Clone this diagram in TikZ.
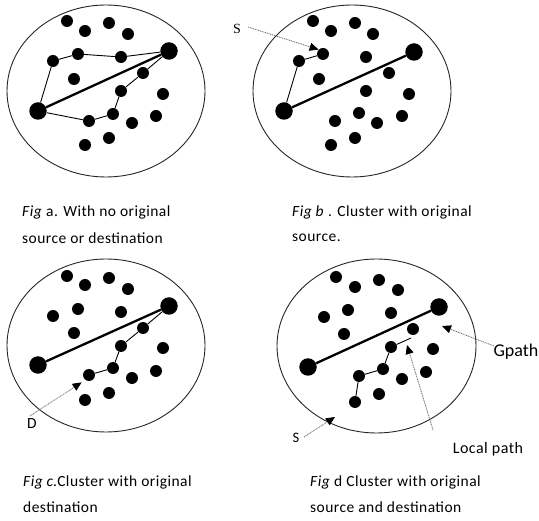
\documentclass[tikz,border=0pt]{standalone}
\usepackage{fontspec}
\setmainfont{Carlito}
\newfontfamily\capfont{Carlito}[LetterSpace=3]
\newfontfamily\serifS{Liberation Serif}
\usetikzlibrary{arrows.meta}
\begin{document}
\begin{tikzpicture}[x=1pt,y=-1pt,
  dot/.style={circle,fill=black,inner sep=0pt,minimum size=12pt},
  bigdot/.style={circle,fill=black,inner sep=0pt,minimum size=17.5pt},
  cluster/.style={draw=black!85,line width=0.9pt},
  gline/.style={line width=2.3pt},
  lline/.style={line width=0.9pt},
  pointer/.style={draw=black!60,line width=0.8pt,dash pattern=on 1pt off 0.8pt,
    -{Triangle[length=9pt,width=8pt,color=black]}},
  captext/.style={anchor=west,inner sep=0pt,font=\capfont\fontsize{15.5}{17}\selectfont},
  lbl/.style={inner sep=0pt,font=\fontsize{15}{17}\selectfont}]
\useasboundingbox (0,0) rectangle (539,521);

% ---------- clusters ----------
\draw[cluster] (106,91) ellipse [x radius=99, y radius=86];
\draw[cluster] (352,91) ellipse [x radius=99, y radius=86];
\draw[cluster] (106,345.5) ellipse [x radius=99, y radius=86.5];
\draw[cluster] (376.5,346) ellipse [x radius=99.5, y radius=87];

% ---------- panel a ----------
\foreach \n/\x/\y in {1/67/21,2/85/31,3/109/23,4/128/34,5/53/61,6/78/54,7/121/57,
  8/143/73,9/74/79,10/163/94,11/121/91,12/113/114,13/89/121,14/132/123,15/156/116,
  16/109/138,17/85/145}
  \node[dot] (a\n) at (\x,\y) {};
\node[bigdot] (aR) at (169,51) {};
\node[bigdot] (aL) at (38,111) {};
\draw[gline] (aL) -- (aR);
\draw[lline] (aL) -- (a5) -- (a6) -- (a7) -- (aR);
\draw[lline] (aL) -- (a13) -- (a12) -- (a11) -- (a8) -- (aR);

% ---------- panel b ----------
\foreach \n/\x/\y in {1/313/21,2/331/31,3/355/23,4/373/34,5/299/61,6/323/54,7/366/57,
  8/389/73,9/319/79,10/409/94,11/366/91,12/359/113,13/335/121,14/377/123,15/402/116,
  16/355/138,17/331/145}
  \node[dot] (b\n) at (\x,\y) {};
\node[bigdot] (bR) at (414,52) {};
\node[bigdot] (bL) at (284,111) {};
\draw[gline] (bL) -- (bR);
\draw[lline] (bL) -- (b5) -- (b6);
\node[lbl,font=\serifS\fontsize{14}{16}\selectfont] (bS) at (237,29) {S};
\coordinate (bSs) at (248,27);
\draw[pointer] (bSs) -- (b6.north west);

% ---------- panel c ----------
\foreach \n/\x/\y in {1/67/276,2/85/285,3/109/278,4/128/289,5/53/316,6/78/309,7/121/312,
  8/143/328,9/74/333,10/163/348,11/121/346,12/113/368,13/89/375,14/132/378,15/156/371,
  16/109/393,17/85/400}
  \node[dot] (c\n) at (\x,\y) {};
\node[bigdot] (cR) at (169,306) {};
\node[bigdot] (cL) at (38,365) {};
\draw[gline] (cL) -- (cR);
\draw[lline] (cR) -- (c8) -- (c11) -- (c12) -- (c13);
\node[lbl,font=\fontsize{15.5}{17}\selectfont] (cD) at (32,424) {D};
\coordinate (cDs) at (30,416);
\draw[pointer] (cDs) -- ([shift={(-3,3)}]c13.south west);

% ---------- panel d ----------
\foreach \n/\x/\y in {1/336/277,2/355/287,3/379/280,4/398/290,5/324/317,6/348/310,7/391/313,
  8/413/329,9/344/334,10/433/349,11/391/347,12/383/369,13/359/376,14/402/379,15/426/372,
  16/379/394,17/355/402}
  \node[dot] (d\n) at (\x,\y) {};
\node[bigdot] (dR) at (439,307) {};
\node[bigdot] (dL) at (308,367) {};
\draw[gline] (dL) -- (dR);
\coordinate (dEnd) at (411,338);
\draw[lline] (d17) -- (d13) -- (d12) -- (d11) -- (dEnd);

\node[lbl,font=\fontsize{18}{20}\selectfont] (dG) at (516,352) {Gpath};
\coordinate (dGs) at (494,346);
\coordinate (dGt) at (442,326);
\draw[pointer] (dGs) -- (dGt);

\node[lbl,font=\capfont\fontsize{16}{18}\selectfont] (dLP) at (488,449) {Local path};
\coordinate (dLPs) at (433,430);
\coordinate (dLPt) at (407,345);
\draw[pointer] (dLPs) -- (dLPt);

\node[lbl,font=\fontsize{14.5}{16}\selectfont] (dS) at (296,438) {S};
\coordinate (dSs) at (304,437);
\coordinate (dSt) at (335,417);
\draw[pointer] (dSs) -- (dSt);

% ---------- captions ----------
\node[captext] (capa1) at (22,212) {\textit{Fig} a. With no original};
\node[captext] (capa2) at (22,238) {source or destination};
\node[captext] (capb1) at (292,212) {\textit{Fig b} . Cluster with original};
\node[captext] (capb2) at (292,238) {source.};
\node[captext] (capc1) at (23,482) {\textit{Fig c}.Cluster with original};
\node[captext] (capc2) at (23,507) {destination};
\node[captext] (capd1) at (310,482) {\textit{Fig} d Cluster with original};
\node[captext] (capd2) at (310,507) {source and destination};
\end{tikzpicture}
\end{document}
